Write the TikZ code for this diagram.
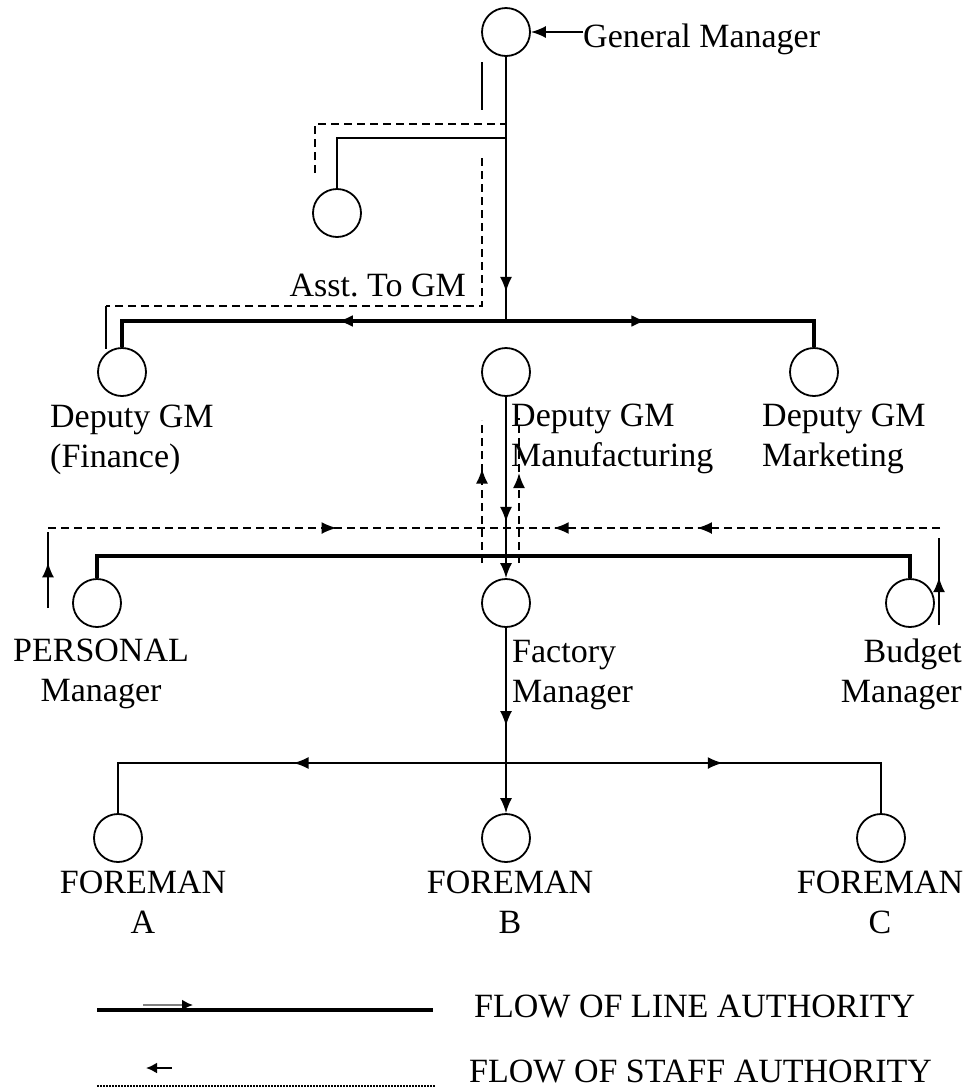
\documentclass[tikz,border=0pt]{standalone}
\usepackage{fontspec}
\setmainfont{Liberation Serif}
\usetikzlibrary{arrows.meta,decorations.markings,positioning}
\tikzset{%
	post/.style      = {draw, circle, line width=1.8pt, minimum size=48pt, inner sep=0pt}, % Position
	lbl/.style       = {inner sep=0pt, font=\fontsize{34}{40}\selectfont}, % Title
	waypoint/.style  = {coordinate},
	lineauth/.style  = {line width=1.8pt},
	thickauth/.style = {line width=3.2pt},
	staffauth/.style = {line width=1.7pt, dash pattern=on 8pt off 5pt},
	midarrow/.style  = {postaction={decorate, decoration={markings, mark=at position #1 with {\arrow{>}}}}},
	>={Latex[length=15pt,width=12pt]},
}

\begin{document}
\begin{tikzpicture}[x=1pt, y=-1pt, node distance=100pt]
	\useasboundingbox (0,0) rectangle (978,1088);
	\node[post] (gm) at (506,32) {};
	\node[post] (asst) at (337,213) {};
	\node[post, below of=gm, node distance=340pt] (dmfg) {};
	\node[post, left of=dmfg, node distance=384pt] (dfin) {};
	\node[post, right of=dmfg, node distance=308pt] (dmkt) {};
	\node[post, below of=dmfg, node distance=231pt] (fact) {};
	\node[post, left of=fact, node distance=409pt] (pers) {};
	\node[post, right of=fact, node distance=404pt] (budg) {};
	\node[post, below of=fact, node distance=235pt] (fb) {};
	\node[post, left of=fb, node distance=388pt] (fa) {};
	\node[post, right of=fb, node distance=375pt] (fc) {};
	
	% base of a two line title is its last line
	\node[lbl, anchor=base west] (gmlbl) at (583,47) {General Manager};
	\node[lbl, anchor=base east] (asstlbl) at (466,296) {Asst.\ To GM};
	\node[lbl, anchor=base west, align=left] (dfinlbl) at (50,467) {Deputy GM\\(Finance)};
	\node[lbl, anchor=base west, align=left] (dmfglbl) at (511,466) {Deputy GM\\Manufacturing};
	\node[lbl, anchor=base west, align=left] (dmktlbl) at (762,466) {Deputy GM\\Marketing};
	\node[lbl, anchor=base, align=center] (perslbl) at (101,701) {PERSONAL\\Manager};
	\node[lbl, anchor=base west, align=left] (factlbl) at (512,702) {Factory\\Manager};
	\node[lbl, anchor=base east, align=right] (budglbl) at (962,702) {Budget\\Manager};
	\node[lbl, anchor=base, align=center] (falbl) at (143,933) {FOREMAN\\A};
	\node[lbl, anchor=base, align=center] (fblbl) at (510,933) {FOREMAN\\B};
	\node[lbl, anchor=base, align=center] (fclbl) at (880,933) {FOREMAN\\C};
	\node[lbl, anchor=base west] (linelbl) at (474,1017) {FLOW OF LINE AUTHORITY};
	\node[lbl, anchor=base west] (stafflbl) at (469,1082) {FLOW OF STAFF AUTHORITY};
	
	\coordinate (hub1) at (506,321);
	\coordinate (hub2) at (506,556);
	\coordinate (hub3) at (506,763);
	\coordinate (s1a) at (482,62);
	\coordinate (s1b) at (482,110);
	\coordinate (d1a) at (315,173);
	\coordinate (d1b) at (506,124);
	\coordinate (a1) at (506,138);
	\coordinate (d2a) at (482,158);
	\coordinate (d2c) at (106,306);
	\coordinate (d2d) at (106,349);
	\coordinate (st1) at (48,528);
	\coordinate (st2) at (940,528);
	\coordinate (stm) at (506,528);
	\coordinate (pu1) at (48,608);
	\coordinate (pu2) at (48,532);
	\coordinate (bu1) at (939,625);
	\coordinate (bu2) at (939,538);
	\coordinate (v1a) at (482,563);
	\coordinate (v1b) at (482,420);
	\coordinate (v2a) at (519,563);
	\coordinate (v2b) at (519,418);
	\coordinate (lg1) at (97,1010);
	\coordinate (lg2) at (433,1010);
	\coordinate (lg3) at (143,1005);
	\coordinate (lg4) at (193,1005);
	\coordinate (lg5) at (97,1086);
	\coordinate (lg6) at (436,1086);
	\coordinate (lg7) at (146,1068);
	\coordinate (lg8) at (172,1068);
	
	% line authority
	\draw[lineauth,->] (gm.east -| gmlbl.west) -- (gm.east);
	\draw[lineauth, midarrow=0.89] (gm.south) -- (hub1);
	\draw[lineauth] (s1a) -- (s1b);
	\draw[lineauth] (asst.north) |- (a1);
	\draw[thickauth, midarrow=0.41] (hub1) -| (dfin.north);
	\draw[thickauth, midarrow=0.42] (hub1) -| (dmkt.north);
	\draw[lineauth, midarrow=0.69, ->] (dmfg.south) -- (fact.north);
	\draw[thickauth] (pers.north) |- (hub2) -| (budg.north);
	\draw[lineauth, midarrow=0.53, ->] (fact.south) -- (fb.north);
	\draw[lineauth, midarrow=0.485] (hub3) -| (fa.north);
	\draw[lineauth, midarrow=0.51] (hub3) -| (fc.north);
	
	% staff authority
	\draw[staffauth] (d1a) |- (d1b);
	\draw[staffauth] (d2a) |- (d2c);
	\draw[lineauth] (d2c) -- (d2d);
	\draw[staffauth, midarrow=0.63] (st1) -- (stm);
	\draw[staffauth, midarrow=0.56, midarrow=0.89] (st2) -- (stm);
	\draw[lineauth, midarrow=0.6] (pu1) -- (pu2);
	\draw[lineauth, midarrow=0.55] (bu1) -- (bu2);
	\draw[staffauth, midarrow=0.66] (v1a) -- (v1b);
	\draw[staffauth, midarrow=0.62] (v2a) -- (v2b);
	
	% legend
	\draw[thickauth] (lg1) -- (lg2);
	\draw[line width=2pt, gray, -{Latex[length=11pt,width=11pt,color=black]}] (lg3) -- (lg4);
	\draw[line width=1.2pt, dash pattern=on 1.5pt off 1.5pt] (lg5) -- (lg6);
	\draw[line width=2pt, {Latex[length=11pt,width=11pt]}-] (lg7) -- (lg8);
\end{tikzpicture}
\end{document}
